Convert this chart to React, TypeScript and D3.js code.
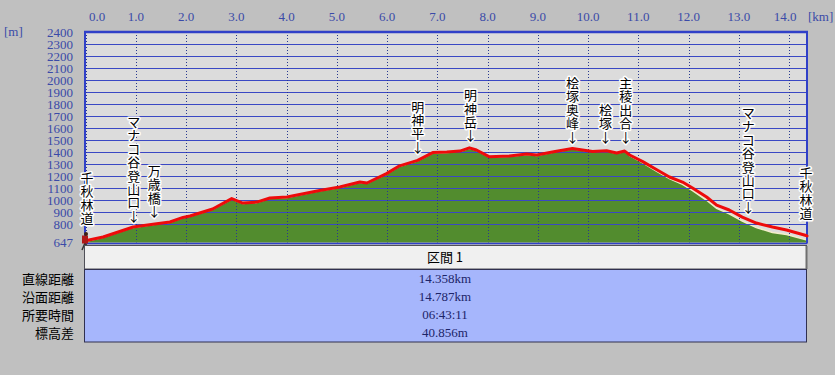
import React from "react";
import * as d3 from "d3";

// ---- data ----
const distKm = [0, 0.35, 0.95, 1.38, 1.68, 1.94, 2.08, 2.53, 2.91, 3.13, 3.41, 3.67, 4.01, 4.66, 5.06, 5.46, 5.6, 5.99, 6.25, 6.61, 6.91, 7.19, 7.45, 7.64, 7.78, 8.04, 8.44, 8.78, 8.98, 9.29, 9.69, 10.09, 10.37, 10.57, 10.73, 10.83, 11.09, 11.36, 11.62, 11.88, 12.08, 12.36, 12.56, 12.81, 13.07, 13.35, 13.67, 13.95, 14.34, 14.358];
const trackElev = [660, 692, 775, 800, 817, 855, 867, 925, 1012, 975, 983, 1017, 1025, 1080, 1108, 1150, 1142, 1220, 1285, 1330, 1395, 1400, 1408, 1435, 1417, 1360, 1367, 1383, 1375, 1400, 1430, 1405, 1410, 1392, 1408, 1375, 1320, 1255, 1192, 1150, 1100, 1025, 958, 917, 858, 808, 775, 750, 705, 700];
const groundElev = [655, 690, 772, 798, 815, 852, 865, 922, 1008, 972, 980, 1014, 1022, 1077, 1105, 1147, 1139, 1217, 1282, 1327, 1392, 1397, 1405, 1432, 1414, 1357, 1364, 1380, 1372, 1397, 1427, 1402, 1407, 1389, 1405, 1370, 1310, 1240, 1178, 1130, 1078, 998, 930, 885, 825, 770, 730, 712, 668, 665];

const xTicks = [0, 1, 2, 3, 4, 5, 6, 7, 8, 9, 10, 11, 12, 13, 14];
const yTicks = [800, 900, 1000, 1100, 1200, 1300, 1400, 1500, 1600, 1700, 1800, 1900, 2000, 2100, 2200, 2300, 2400];
const yMin = 647;
const yMax = 2400;
const xMax = 14.358;

const markerNames = ["千秋林道", "マナコ谷登山口", "万歳橋", "明神平", "明神岳", "桧塚奥峰", "桧塚", "主稜出合", "マナコ谷登山口", "千秋林道"];
const markerKm = [0.03, 0.96, 1.37, 6.61, 7.66, 9.69, 10.35, 10.75, 13.19, 14.34];
const markerElev = [660, 790, 830, 1365, 1460, 1450, 1450, 1450, 865, 700];
const markerArrow = [false, true, true, true, true, true, true, true, true, false];

const sectionTitle = "区間 1";
const statLabels = ["直線距離", "沿面距離", "所要時間", "標高差"];
const statValues = ["14.358km", "14.787km", "06:43:11", "40.856m"];

const SERIF = "'Liberation Serif', 'DejaVu Serif', serif";
const CJK = "'Noto Sans CJK JP', 'Noto Sans', sans-serif";

export default function App() {
  const W = 835, H = 375;
  const left = 85, right = 807, top = 32, bottom = 242.4;
  const x = d3.scaleLinear().domain([0, xMax]).range([left + 0.5, right]);
  const y = d3.scaleLinear().domain([yMin, yMax]).range([bottom, top]);

  const pts = distKm.map((d, i) => [d, trackElev[i]] as [number, number]);
  const gpts = distKm.map((d, i) => [d, groundElev[i]] as [number, number]);
  const area = d3.area<[number, number]>().x(d => x(d[0])).y0(bottom).y1(d => y(d[1]))(gpts) || "";
  const groundLine = d3.line<[number, number]>().x(d => x(d[0])).y(d => y(d[1]))(gpts) || "";
  const line = d3.line<[number, number]>().x(d => x(d[0])).y(d => y(d[1]))(pts) || "";

  const step = 13.4;
  const gridBlue = "#3a48c4";
  const tableL = 84, tableR = 806;

  return (
    <div style={{ position: "absolute", left: 0, top: 0, width: W, height: H }}>
      <svg width={W} height={H} style={{ display: "block" }}>
        <rect x={0} y={0} width={W} height={H} fill="#c0c0c0" />
        {/* plot background */}
        <rect x={left} y={top} width={right - left} height={bottom - top} fill="#dcdcdc" />
        {/* ground */}
        <path d={area} fill="#528c2e" />
        <path d={groundLine} fill="none" stroke="#f2ecc8" strokeWidth={1.5} />
        {/* horizontal grid */}
        {yTicks.map(t => (
          <line key={"h" + t} x1={left} x2={right} y1={Math.round(y(t)) + 0.5} y2={Math.round(y(t)) + 0.5} stroke={gridBlue} strokeWidth={1} />
        ))}
        {/* vertical dotted grid */}
        {xTicks.map(t => (
          <line key={"v" + t} x1={Math.round(x(t)) + 0.5} x2={Math.round(x(t)) + 0.5} y1={top} y2={bottom} stroke="#283890" strokeWidth={1} strokeDasharray="1,2" />
        ))}
        {/* borders */}
        <line x1={left - 1} x2={right + 1} y1={top} y2={top} stroke="#3040c8" strokeWidth={2.5} />
        <line x1={left} x2={left} y1={top} y2={bottom + 1} stroke="#3040c8" strokeWidth={2} />
        <line x1={right} x2={right} y1={top} y2={bottom + 1} stroke="#3040c8" strokeWidth={2} />
        <line x1={left} x2={right} y1={bottom + 1} y2={bottom + 1} stroke="#3040c8" strokeWidth={1.5} />
        {/* profile line */}
        <path d={line} fill="none" stroke="#ee0a0a" strokeWidth={3} strokeLinejoin="round" strokeLinecap="round" />

        {/* x tick labels */}
        {xTicks.map(t => (
          <text key={"xt" + t} x={Math.max(97, Math.min(785, x(t)))} y={21} textAnchor="middle" fontFamily={SERIF} fontSize={13} fill="#3a4aa8">
            {t.toFixed(1)}
          </text>
        ))}
        <text x={808} y={21} fontFamily={SERIF} fontSize={13} fill="#3a4aa8">[km]</text>
        {/* y tick labels */}
        {yTicks.map(t => (
          <text key={"yt" + t} x={73} y={y(t) + 4.5} textAnchor="end" fontFamily={SERIF} fontSize={13} fill="#3a4aa8">{t}</text>
        ))}
        <text x={73} y={y(yMin) + 4.5} textAnchor="end" fontFamily={SERIF} fontSize={13} fill="#3a4aa8">{yMin}</text>
        <text x={4} y={36} fontFamily={SERIF} fontSize={13} fill="#3a4aa8">[m]</text>

        {/* markers: stacked vertical glyphs */}
        {markerNames.map((name, mi) => {
          const chars = Array.from(name);
          const glyphs = [...chars, markerArrow[mi] ? "↓" : ""];
          const n = glyphs.length;
          const tip = y(markerElev[mi]) - 3;
          const cx = x(markerKm[mi]);
          return (
            <g key={"m" + mi}>
              {glyphs.map((g, gi) => (
                g ? (
                  <text key={gi} x={cx} y={tip - (n - 1 - gi) * step - 1.5} textAnchor="middle" fontFamily={CJK} fontSize={13} fill="#000"
                    stroke="#ffffff" strokeWidth={3} strokeLinejoin="round" style={{ paintOrder: "stroke" }}>
                    {g}
                  </text>
                ) : null
              ))}
            </g>
          );
        })}

        {/* hiker icon */}
        <g>
          <line x1={85} x2={85} y1={244} y2={256} stroke="#111" strokeWidth={1} />
          <line x1={85} x2={82} y1={243} y2={250} stroke="#333" strokeWidth={1.5} />
          <line x1={85} x2={89} y1={243} y2={249} stroke="#333" strokeWidth={1.5} />
          <rect x={82} y={235.5} width={6} height={8} fill="#b01818" />
          <circle cx={86} cy={234} r={2} fill="#402010" />
        </g>

        {/* table */}
        <rect x={tableL + 0.5} y={245.5} width={tableR - tableL} height={23.5} fill="#f0f0f0" stroke="#505058" strokeWidth={1} />
        <line x1={tableR + 0.5} x2={tableR + 0.5} y1={246} y2={269} stroke="#707070" strokeWidth={2} />
        <text x={(tableL + tableR) / 2} y={262} textAnchor="middle" fontFamily={CJK} fontSize={13} fill="#000">{sectionTitle}</text>
        <rect x={tableL + 0.5} y={269.5} width={tableR - tableL} height={72.5} fill="#a6b6fc" stroke="#303050" strokeWidth={1} />
        {statLabels.map((s, i) => (
          <text key={"sl" + i} x={74} y={284 + i * 18} textAnchor="end" fontFamily={CJK} fontSize={13} fill="#000">{s}</text>
        ))}
        {statValues.map((s, i) => (
          <text key={"sv" + i} x={(tableL + tableR) / 2} y={282.5 + i * 18} textAnchor="middle" fontFamily={SERIF} fontSize={13} fill="#1c2468">{s}</text>
        ))}
      </svg>
    </div>
  );
}
